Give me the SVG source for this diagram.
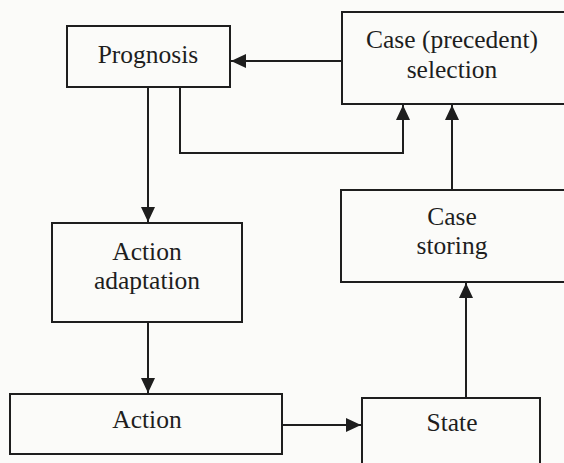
<svg xmlns="http://www.w3.org/2000/svg" width="564" height="463" viewBox="0 0 564 463">
<style>
.box{fill:none;stroke:#1e1e1e;stroke-width:2}
text{font-family:"Liberation Serif","DejaVu Serif",serif;font-size:25.5px;fill:#1e1e1e;text-anchor:middle}
.con{fill:none;stroke:#1e1e1e;stroke-width:2}
</style>
<defs>
<marker id="ah" markerUnits="userSpaceOnUse" markerWidth="16" markerHeight="14" refX="15" refY="7" orient="auto">
<path d="M0,0 L15,7 L0,14 Z" fill="#1e1e1e"/>
</marker>
</defs>
<rect width="564" height="463" fill="#fbfbf9"/>
<g id="connectors">
<line class="con" x1="342" y1="61" x2="231" y2="61" marker-end="url(#ah)"/>
<line class="con" x1="148" y1="87" x2="148" y2="222" marker-end="url(#ah)"/>
<path class="con" d="M180,87 V153 H403 V105" marker-end="url(#ah)"/>
<line class="con" x1="452" y1="190" x2="452" y2="105" marker-end="url(#ah)"/>
<line class="con" x1="148" y1="322" x2="148" y2="393" marker-end="url(#ah)"/>
<line class="con" x1="282" y1="425" x2="361" y2="425" marker-end="url(#ah)"/>
<line class="con" x1="466" y1="398" x2="466" y2="283" marker-end="url(#ah)"/>
</g>
<g id="prognosis">
<rect class="box" x="67" y="26" width="163" height="61"/>
<text x="148" y="63">Prognosis</text>
</g>
<g id="case-selection">
<rect class="box" x="342" y="12" width="224" height="92"/>
<text x="452" y="48">Case (precedent)</text>
<text x="452" y="78">selection</text>
</g>
<g id="case-storing">
<rect class="box" x="341" y="190" width="225" height="92"/>
<text x="452" y="225">Case</text>
<text x="452" y="254">storing</text>
</g>
<g id="action-adaptation">
<rect class="box" x="52" y="223" width="190" height="99"/>
<text x="147" y="260">Action</text>
<text x="147" y="289">adaptation</text>
</g>
<g id="action">
<rect class="box" x="10" y="394" width="272" height="60"/>
<text x="147" y="428">Action</text>
</g>
<g id="state">
<rect class="box" x="362" y="398" width="178" height="70"/>
<text x="452" y="431">State</text>
</g>
</svg>
